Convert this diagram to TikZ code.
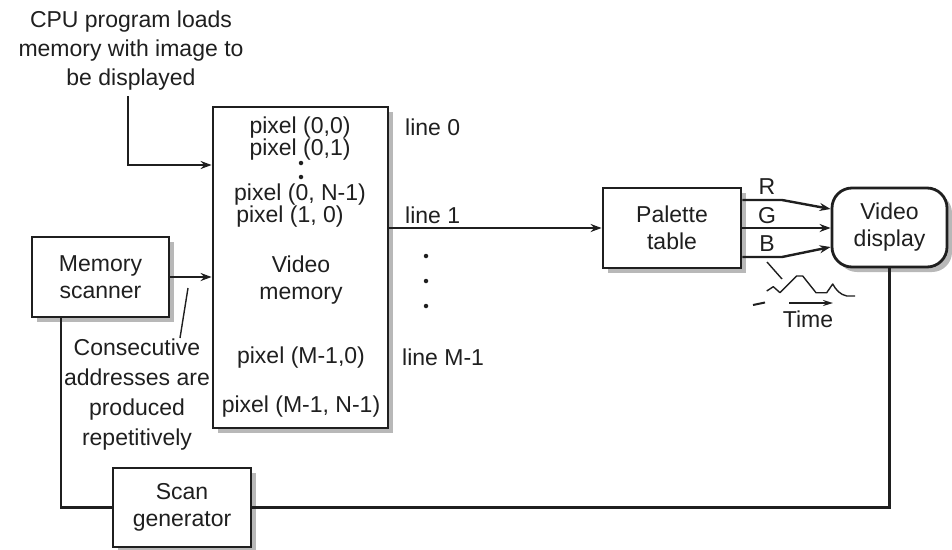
\documentclass[tikz,border=0pt]{standalone}
\usepackage{fontspec}
\setmainfont{Liberation Sans}
\usetikzlibrary{arrows.meta,shadows}
\definecolor{shad}{gray}{0.72}
\definecolor{ink}{gray}{0.12}
\tikzset{
  box/.style={draw=ink, line width=2.8pt, fill=white, inner sep=0pt,
    drop shadow={shadow xshift=5pt, shadow yshift=-5pt, opacity=1, fill=shad}},
  lbl/.style={inner sep=0pt, text=ink, font=\fontsize{23}{24}\selectfont},
  conn/.style={draw=ink, line width=2.4pt},
  arr/.style={conn, -{Stealth[length=11pt,width=8pt]}},
  thinline/.style={draw=ink, line width=1.4pt},
  dotmark/.style={circle, fill=ink, inner sep=0pt, minimum size=4.5pt},
}
\begin{document}
\begin{tikzpicture}[x=1pt,y=-1pt]
\useasboundingbox (0,0) rectangle (952,549);
% boxes
\node[box, minimum width=175pt, minimum height=321pt] (mem) at (300.5,267.5) {};
\node[box, minimum width=137pt, minimum height=80pt, align=center, font=\fontsize{23}{27}\selectfont, text=ink] (ms) at (100.5,277) {Memory\\scanner};
\node[box, minimum width=138pt, minimum height=79pt, align=center, font=\fontsize{23}{27}\selectfont, text=ink] (sg) at (182,507.5) {Scan\\generator};
\node[box, minimum width=138pt, minimum height=80pt, align=center, font=\fontsize{23}{27}\selectfont, text=ink] (pal) at (672,228) {Palette\\table};
\node[box, rounded corners=20pt, minimum width=115pt, minimum height=79pt, align=center, font=\fontsize{23}{27}\selectfont, text=ink] (vd) at (889.5,227.5) {Video\\display};
% memory contents
\node[lbl] (p00) at (300,128) {pixel (0,0)};
\node[lbl] (p01) at (300,150) {pixel (0,1)};
\node[dotmark] (d1) at (301,163) {};
\node[dotmark] (d2) at (301,177) {};
\node[lbl] (p0n) at (300,195) {pixel (0, N-1)};
\node[lbl] (p10) at (290,217) {pixel (1, 0)};
\node[lbl, align=center, font=\fontsize{23}{27}\selectfont] (vm) at (301,280) {Video\\memory};
\node[lbl] (pm0) at (301,358) {pixel (M-1,0)};
\node[lbl] (pmn) at (301,407) {pixel (M-1, N-1)};
% line labels
\node[lbl, anchor=west] (l0) at (405,127) {line 0};
\node[lbl, anchor=west] (l1) at (405,215) {line 1};
\node[lbl, anchor=west] (lm) at (402,357) {line M-1};
\node[dotmark] (e1) at (426,256) {};
\node[dotmark] (e2) at (426,281) {};
\node[dotmark] (e3) at (426,306) {};
% CPU text
\node[lbl, align=center, font=\fontsize{23}{29}\selectfont] (cpu) at (131,51) {CPU program loads\\memory with image to\\be displayed};
\coordinate (cpuend) at (128,96);
\draw[arr] (cpuend) |- (mem.west |- 0,165);
% memory scanner
\draw[arr] (ms.east) -- (ms.east -| mem.west);
\node[lbl, align=center, font=\fontsize{23}{30}\selectfont] (cons) at (137,395) {Consecutive\\addresses are\\produced\\repetitively};
\coordinate (leadtop) at (188,288);
\coordinate (leadbot) at (180,338);
\draw[thinline] (leadtop) -- (leadbot);
% line 1 to palette
\draw[arr] (mem.east |- pal.west) -- (pal.west);
% RGB
\coordinate (rb) at (782,200);
\coordinate (bb) at (782,257);
\draw[arr] (pal.east |- rb) -- (rb) -- (vd.west |- 0,209);
\draw[arr] (pal.east) -- (vd.west |- pal.east);
\draw[arr] (pal.east |- bb) -- (bb) -- (vd.west |- 0,247);
\node[lbl] (r) at (767,187) {R};
\node[lbl] (g) at (767,216) {G};
\node[lbl] (b) at (767,244) {B};
% waveform
\draw[thinline] (767,262) -- (782,279);
\draw[thinline, line join=round] (766.7,291) -- (773.3,286.7) -- (780,292.7) -- (796.7,276) -- (802.7,276) -- (816,292.7) -- (826.7,292.7) -- (832.7,284) .. controls (836,290) and (840,294.5) .. (846.7,296) -- (855,296);
\draw[conn, line width=2pt] (753,305) -- (765,302.5);
\coordinate (ts) at (789,303);
\coordinate (te) at (833,303);
\draw[thinline, line width=2pt, -{Stealth[length=10pt,width=6pt]}] (ts) -- (te);
\node[lbl] (time) at (808,319) {Time};
% scan loop
\draw[conn] (ms.south -| 61,0) |- (sg.west);
\draw[conn] (sg.east) -| (vd.south);
\end{tikzpicture}
\end{document}
